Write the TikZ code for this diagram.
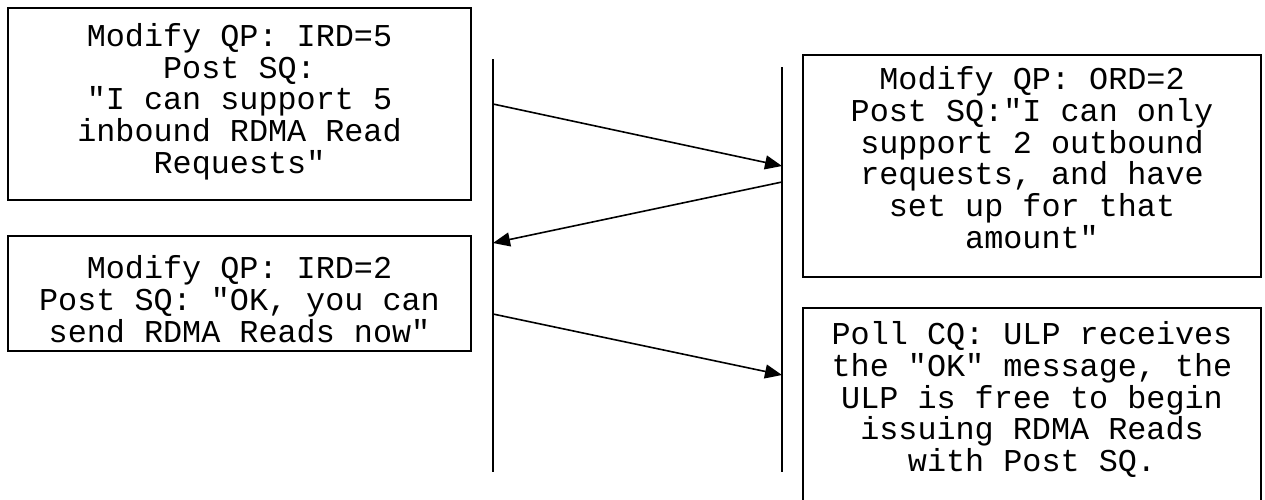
\documentclass[tikz,border=0pt]{standalone}
\usepackage{fontspec}
\setmonofont{Liberation Mono}
\usetikzlibrary{arrows.meta}
\begin{document}
\begin{tikzpicture}[x=1pt,y=-1pt,
  line width=1.6pt,
  box/.style={draw=black, line width=1.6pt, inner sep=0pt},
  msg/.style={font=\ttfamily\fontsize{31.8}{31.7}\selectfont, align=center, inner sep=0pt},
  signal/.style={-{Triangle[length=17pt,width=14pt]}, line width=1.6pt},
  lifeline/.style={line width=1.8pt}]
  \clip (0,0) rectangle (1265,499);
  \fill[white] (0,0) rectangle (1265,499);

  % message boxes, left side
  \node[box, minimum width=463, minimum height=192] (b1) at (239.5,104) {};
  \node[msg] (t1) at (239.5,101.5) {Modify QP: IRD=5\\Post SQ:\\"I can support 5\\inbound RDMA Read\\Requests"};
  \node[box, minimum width=463, minimum height=115] (b2) at (239.5,293.5) {};
  \node[msg] (t2) at (239.5,299) {Modify QP: IRD=2\\Post SQ: "OK, you can\\send RDMA Reads now"};

  % message boxes, right side
  \node[box, minimum width=458, minimum height=222] (b3) at (1032,166) {};
  \node[msg] (t3) at (1032,157.5) {Modify QP: ORD=2\\Post SQ:"I can only\\support 2 outbound\\requests, and have\\set up for that\\amount"};
  \node[box, minimum width=458, minimum height=260] (b4) at (1032,438) {};
  \node[msg] (t4) at (1032,399.5) {Poll CQ: ULP receives\\the "OK" message, the\\ULP is free to begin\\issuing RDMA Reads\\with Post SQ.};

  % lifelines
  \coordinate (Ltop) at (493,59);
  \coordinate (Lbot) at (493,472);
  \coordinate (Rtop) at (782,67);
  \coordinate (Rbot) at (782,472);
  \draw[lifeline] (Ltop) -- (Lbot);
  \draw[lifeline] (Rtop) -- (Rbot);

  % exchanged messages
  \coordinate (m1s) at (493,104);
  \coordinate (m1e) at (782,166);
  \coordinate (m2s) at (782,182);
  \coordinate (m2e) at (493,243);
  \coordinate (m3s) at (493,314);
  \coordinate (m3e) at (782,375);
  \draw[signal] (m1s) -- (m1e);
  \draw[signal] (m2s) -- (m2e);
  \draw[signal] (m3s) -- (m3e);
\end{tikzpicture}
\end{document}
